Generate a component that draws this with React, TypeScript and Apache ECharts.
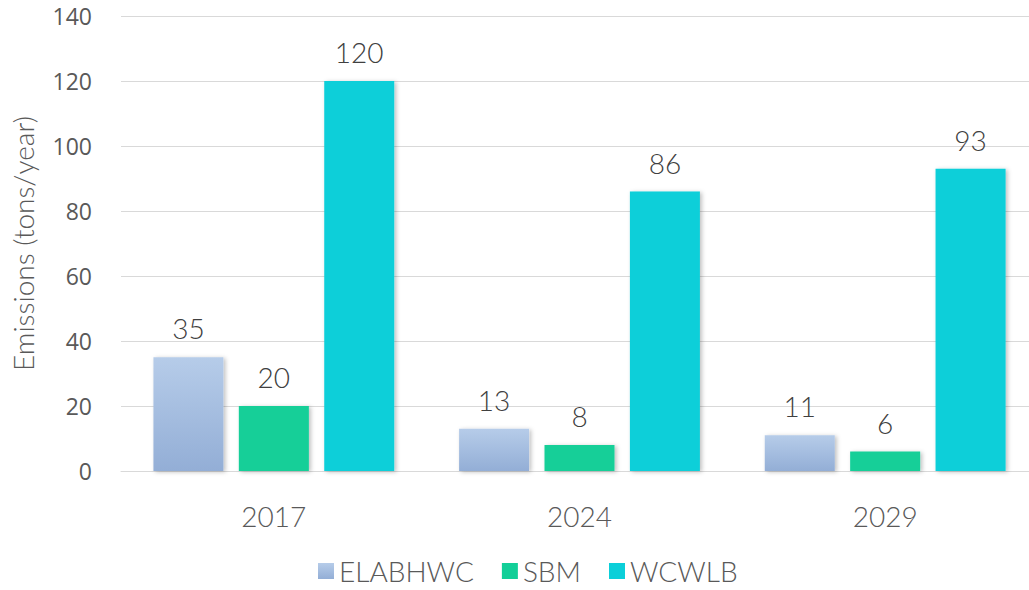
import React, { useEffect, useRef } from "react";
import * as echarts from "echarts";

const categories = ["2017", "2024", "2029"];
const elabhwc = [35, 13, 11];
const sbm = [20, 8, 6];
const wcwlb = [120, 86, 93];
const seriesNames = ["ELABHWC", "SBM", "WCWLB"];

export default function App() {
  const ref = useRef<HTMLDivElement>(null);
  useEffect(() => {
    const chart = echarts.init(ref.current!, null, { renderer: "svg" });
    const labelStyle = {
      show: true,
      position: "top" as const,
      distance: 15,
      color: "#404040",
      fontSize: 28,
      fontFamily: "Lato",
      fontWeight: 300,
    };
    const shadow = {
      shadowColor: "rgba(0,0,0,0.25)",
      shadowBlur: 4,
      shadowOffsetX: 2,
      shadowOffsetY: 1,
    };
    const grad = new echarts.graphic.LinearGradient(0, 0, 0, 1, [
      { offset: 0, color: "#B6CCE9" },
      { offset: 1, color: "#93AED6" },
    ]);
    chart.setOption({
      animation: false,
      grid: { left: 121, right: 2, top: 16, bottom: 119 },
      legend: {
        bottom: 0,
        left: 313,
        itemWidth: 16,
        itemHeight: 16,
        itemGap: 28,
        icon: "rect",
        textStyle: { color: "#595959", fontSize: 28, fontFamily: "Lato", fontWeight: 300 },
        data: seriesNames,
      },
      xAxis: {
        type: "category",
        data: categories,
        axisLine: { lineStyle: { color: "#d9d9d9", width: 1 } },
        axisTick: { show: false },
        axisLabel: { color: "#595959", fontSize: 28, fontFamily: "Lato", fontWeight: 300, margin: 31 },
      },
      yAxis: {
        type: "value",
        min: 0,
        max: 140,
        interval: 20,
        name: "Emissions (tons/year)",
        nameLocation: "middle",
        nameGap: 84,
        nameTextStyle: { color: "#595959", fontSize: 28, fontFamily: "Lato", fontWeight: 300 },
        axisLine: { show: false },
        axisTick: { show: false },
        splitLine: { lineStyle: { color: "#d9d9d9", width: 1 } },
        axisLabel: { color: "#595959", fontSize: 23, fontFamily: "Open Sans", margin: 29 },
      },
      series: [
        {
          name: "ELABHWC",
          type: "bar",
          data: elabhwc,
          barWidth: 70,
          barGap: "22%",
          itemStyle: { color: grad, ...shadow },
          label: labelStyle,
        },
        {
          name: "SBM",
          type: "bar",
          data: sbm,
          barWidth: 70,
          barGap: "22%",
          itemStyle: { color: "#12CF98", ...shadow },
          label: labelStyle,
        },
        {
          name: "WCWLB",
          type: "bar",
          data: wcwlb,
          barWidth: 70,
          barGap: "22%",
          itemStyle: { color: "#0BCFD9", ...shadow },
          label: labelStyle,
        },
      ],
    });
    return () => chart.dispose();
  }, []);
  return (
    <div style={{ width: 1029, height: 590, position: "absolute", left: 0, top: 0, overflow: "hidden" }}>
      <div ref={ref} style={{ width: 1040, height: 590 }} />
    </div>
  );
}
